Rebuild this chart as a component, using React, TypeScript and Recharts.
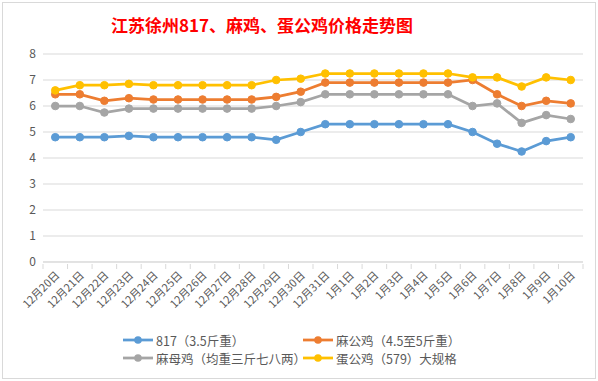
import React from 'react';
import { LineChart, Line, XAxis, YAxis, CartesianGrid } from 'recharts';

const dates = [
  '12月20日', '12月21日', '12月22日', '12月23日', '12月24日', '12月25日',
  '12月26日', '12月27日', '12月28日', '12月29日', '12月30日', '12月31日',
  '1月1日', '1月2日', '1月3日', '1月4日', '1月5日', '1月6日', '1月7日',
  '1月8日', '1月9日', '1月10日',
];
const s817 = [4.8, 4.8, 4.8, 4.85, 4.8, 4.8, 4.8, 4.8, 4.8, 4.7, 5.0, 5.3, 5.3, 5.3, 5.3, 5.3, 5.3, 5.0, 4.55, 4.25, 4.65, 4.8];
const maRooster = [6.45, 6.45, 6.2, 6.3, 6.25, 6.25, 6.25, 6.25, 6.25, 6.35, 6.55, 6.9, 6.9, 6.9, 6.9, 6.9, 6.9, 7.0, 6.45, 6.0, 6.2, 6.1];
const maHen = [6.0, 6.0, 5.75, 5.9, 5.9, 5.9, 5.9, 5.9, 5.9, 6.0, 6.15, 6.45, 6.45, 6.45, 6.45, 6.45, 6.45, 6.0, 6.1, 5.35, 5.65, 5.5];
const eggRooster = [6.6, 6.8, 6.8, 6.85, 6.8, 6.8, 6.8, 6.8, 6.8, 7.0, 7.05, 7.25, 7.25, 7.25, 7.25, 7.25, 7.25, 7.1, 7.1, 6.75, 7.1, 7.0];
const yTicks = [0, 1, 2, 3, 4, 5, 6, 7, 8];

const series = [
  { key: 's817', name: '817（3.5斤重）', color: '#5B9BD5' },
  { key: 'maRooster', name: '麻公鸡（4.5至5斤重）', color: '#ED7D31' },
  { key: 'maHen', name: '麻母鸡（均重三斤七八两）', color: '#A5A5A5' },
  { key: 'eggRooster', name: '蛋公鸡（579）大规格', color: '#FFC000' },
];

const data = dates.map((d, i) => ({
  date: d,
  s817: s817[i],
  maRooster: maRooster[i],
  maHen: maHen[i],
  eggRooster: eggRooster[i],
}));

const FONT = '"Noto Sans CJK SC", "Microsoft YaHei", sans-serif';
const BAND = 540 / dates.length;

const DateTick = (props: any) => {
  const { x, y, payload, index } = props;
  return (
    <g>
      <line x1={x - BAND / 2} y1={y} x2={x - BAND / 2} y2={y + 5} stroke="#d9d9d9" />
      {index === dates.length - 1 && (
        <line x1={x + BAND / 2} y1={y} x2={x + BAND / 2} y2={y + 5} stroke="#d9d9d9" />
      )}
      <text
        x={x + 5}
        y={y + 12}
        transform={`rotate(-45, ${x + 5}, ${y + 12})`}
        textAnchor="end"
        fontSize={11}
        fill="#595959"
        fontFamily={FONT}
      >
        {payload.value}
      </text>
    </g>
  );
};

export default function App() {
  return (
    <div style={{ position: 'absolute', left: 0, top: 0, width: 598, height: 381, background: '#fff', fontFamily: FONT }}>
      <div style={{ position: 'absolute', left: 2, top: 2, width: 592, height: 375, border: '1px solid #d9d9d9' }} />
      <div
        style={{
          position: 'absolute', left: 0, width: 524, top: 12, textAlign: 'center',
          color: '#f00', fontWeight: 'bold', fontSize: 17, lineHeight: '26px',
          fontFamily: '"Noto Sans CJK SC", serif',
        }}
      >
        江苏徐州817、麻鸡、蛋公鸡价格走势图
      </div>
      <div style={{ position: 'absolute', left: 0, top: 0 }}>
        <LineChart width={598} height={381} data={data} margin={{ top: 54, right: 15, left: 0, bottom: 0 }}>
          <CartesianGrid horizontal vertical={false} stroke="#d9d9d9" />
          <XAxis
            dataKey="date"
            height={119}
            interval={0}
            padding={{ left: BAND / 2, right: BAND / 2 }}
            tickLine={false}
            tickSize={0}
            axisLine={{ stroke: '#d9d9d9' }}
            tick={<DateTick />}
          />
          <YAxis
            width={43}
            domain={[0, 8]}
            ticks={yTicks}
            axisLine={false}
            tickLine={false}
            tickSize={0}
            tickMargin={7}
            tick={{ fontSize: 12, fill: '#595959', fontFamily: FONT }}
          />
          {series.map((s) => (
            <Line
              key={s.key}
              dataKey={s.key}
              name={s.name}
              stroke={s.color}
              strokeWidth={2.75}
              dot={{ r: 3.8, fill: s.color, stroke: s.color, strokeWidth: 1 }}
              isAnimationActive={false}
            />
          ))}
        </LineChart>
      </div>
      {series.map((s, i) => {
        const left = i % 2 === 0 ? 123 : 303;
        const top = i < 2 ? 331 : 349;
        return (
          <div key={s.key} style={{ position: 'absolute', left, top, height: 18, display: 'flex', alignItems: 'center' }}>
            <svg width={30} height={10} style={{ marginRight: 3 }}>
              <line x1={0} y1={5} x2={30} y2={5} stroke={s.color} strokeWidth={2.75} />
              <circle cx={15} cy={5} r={3.8} fill={s.color} />
            </svg>
            <span style={{ fontSize: 12.5, color: '#595959', whiteSpace: 'nowrap' }}>{s.name}</span>
          </div>
        );
      })}
    </div>
  );
}
